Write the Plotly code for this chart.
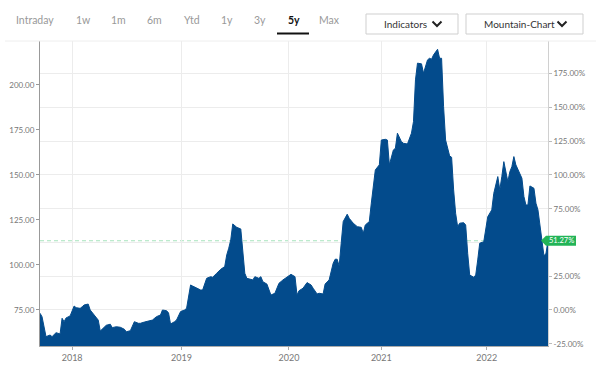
import plotly.graph_objects as go

# ---------------- data ----------------
weeks = [0, 1, 3, 5, 6, 8, 10, 11, 12, 13, 15, 17, 18, 20, 21, 22, 24, 25, 27, 29,
         30, 31, 33, 35, 36, 38, 40, 42, 43, 45, 47, 49, 50, 52, 55, 56, 58, 60, 61, 63,
         64, 65, 67, 68, 70, 72, 73, 75, 76, 78, 80, 81, 83, 85, 86, 88, 90, 92, 93, 94,
         95, 96, 98, 100, 101, 102, 103, 106, 107, 109, 110, 111, 113, 115, 117, 119, 121, 123, 125, 127,
         128, 129, 131, 133, 135, 136, 138, 139, 141, 142, 144, 146, 147, 148, 149, 150, 151, 153, 154, 156,
         158, 160, 161, 162, 164, 165, 166, 167, 169, 170, 172, 173, 174, 176, 177, 178, 180, 181, 183, 184,
         185, 186, 187, 188, 190, 191, 193, 194, 195, 196, 198, 199, 200, 201, 202, 204, 205, 206, 207, 208,
         209, 211, 212, 213, 214, 216, 217, 218, 219, 221, 222, 223, 225, 226, 228, 229, 230, 231, 233, 234,
         235, 236, 237, 238, 240, 241, 242, 243, 244, 246, 247, 248, 249, 250, 251, 252, 253]
prices = [73.2, 71.3, 60.2, 61.1, 60.2, 62.4, 61.7, 70.4, 68.5, 70.6, 71.7, 77.2, 76.3, 75.9, 76.8, 77.8, 78.3, 75.0, 72.2, 69.4,
          63.3, 64.4, 66.5, 67.1, 65.2, 65.7, 65.4, 64.3, 62.9, 63.5, 68.5, 67.6, 67.6, 68.3, 68.9, 69.4, 71.3, 72.2, 75.0, 74.6,
          73.5, 67.2, 68.5, 69.4, 74.1, 75.0, 75.9, 88.9, 88.3, 87.1, 86.1, 86.1, 92.6, 93.5, 93.2, 95.4, 97.6, 99.1, 105.6, 109.3,
          113.9, 122.8, 120.9, 120.0, 106.5, 95.4, 92.6, 91.7, 93.5, 92.6, 93.5, 90.7, 89.4, 83.3, 84.3, 89.8, 91.7, 93.5, 94.8, 93.5,
          83.3, 85.7, 87.1, 90.2, 88.9, 87.1, 83.9, 84.3, 83.9, 89.4, 91.7, 100.9, 103.2, 103.2, 99.4, 112.1, 124.1, 128.2, 125.9, 123.2,
          121.3, 120.9, 117.6, 122.2, 124.1, 134.3, 145.4, 152.8, 155.6, 169.4, 169.8, 169.4, 155.6, 163.9, 164.8, 173.2, 168.5, 167.6, 167.2, 170.4,
          173.2, 179.6, 202.8, 212.1, 211.7, 206.5, 213.9, 214.8, 214.3, 216.7, 219.8, 214.8, 214.8, 187.9, 169.4, 160.6, 159.8, 141.7, 128.7, 121.3,
          123.2, 123.5, 122.2, 106.5, 94.4, 93.2, 94.4, 102.8, 112.1, 112.9, 120.4, 126.8, 130.6, 139.8, 149.1, 141.7, 149.1, 157.4, 146.3, 151.8,
          154.6, 160.2, 155.6, 152.8, 148.2, 138.0, 133.3, 133.3, 143.9, 142.6, 134.3, 130.6, 121.3, 111.1, 105.0, 106.5, 113.45]

base_price = 75.0          # price that corresponds to 0.00 %
last_change_label = "51.27%"

year_ticks = [16, 70.5, 124, 170, 222.5]
year_labels = ["2018", "2019", "2020", "2021", "2022"]
price_ticks = [75, 100, 125, 150, 175, 200]
pct_ticks = [-0.25, 0.0, 0.25, 0.5, 0.75, 1.0, 1.25, 1.5, 1.75]
pct_hidden = [0.5]   # covered by the last-value tag

tabs = ["Intraday", "1w", "1m", "6m", "Ytd", "1y", "3y", "5y", "Max"]
active_tab = "5y"
buttons = ["Indicators", "Mountain-Chart"]

# ---------------- geometry helpers ----------------
W, H = 601, 369
ML, MR, MT, MB = 40, 53, 41, 23
PW, PH = W - ML - MR, H - MT - MB
y_range = [55.0, 224.4]


def px(x):
    return (x - ML) / PW


def py(y):
    return (H - MB - y) / PH


pct_values = [p / base_price - 1 for p in prices]
last_price = prices[-1]

fig = go.Figure()
fig.add_trace(go.Scatter(
    x=weeks, y=prices, mode="lines", fill="tozeroy",
    line=dict(color="#034b8c", width=1), fillcolor="#034b8c",
    hoverinfo="skip", showlegend=False))
fig.add_trace(go.Scatter(
    x=weeks, y=pct_values, yaxis="y2", mode="lines",
    line=dict(width=0, color="rgba(0,0,0,0)"), hoverinfo="skip", showlegend=False))

FONT = "Lato, Open Sans, Arial, sans-serif"
tick_font = dict(family=FONT, size=8, color="#777")

fig.update_layout(
    width=W, height=H, autosize=False, showlegend=False,
    margin=dict(l=ML, r=MR, t=MT, b=MB, pad=0, autoexpand=False),
    paper_bgcolor="white", plot_bgcolor="white",
    xaxis=dict(range=[0, weeks[-1]], tickvals=year_ticks, ticktext=year_labels,
               showgrid=True, gridcolor="#ececec", gridwidth=1,
               showline=True, linecolor="#aaa", linewidth=1,
               ticks="outside", ticklen=3, tickcolor="#aaa",
               tickfont=dict(family=FONT, size=9, color="#777"),
               zeroline=False, fixedrange=True, automargin=False),
    yaxis=dict(range=y_range, tickvals=price_ticks,
               ticktext=[f"{v:.2f}" for v in price_ticks],
               showgrid=False, showline=True, linecolor="#999", linewidth=1,
               ticks="outside", ticklen=3, tickcolor="#999",
               tickfont=tick_font, zeroline=False, fixedrange=True, automargin=False),
    yaxis2=dict(range=[y_range[0] / base_price - 1, y_range[1] / base_price - 1],
                overlaying="y", side="right", tickvals=pct_ticks,
                ticktext=["" if v in pct_hidden else f"{v * 100:.2f}%" for v in pct_ticks],
                showgrid=True, gridcolor="#ececec", gridwidth=1,
                showline=True, linecolor="#d0d0d0", linewidth=1,
                ticks="outside", ticklen=3, tickcolor="#bbb",
                tickfont=tick_font, zeroline=False, fixedrange=True, automargin=False),
)

shapes = []
# dashed reference line at the last price (below the mountain)
shapes.append(dict(type="line", xref="paper", yref="y", x0=0, x1=1,
                   y0=last_price, y1=last_price, layer="below",
                   line=dict(color="#a6e3bd", width=1.2, dash="4px,3px")))
# top separator line
shapes.append(dict(type="line", xref="paper", yref="paper",
                   x0=px(5), x1=px(596), y0=py(41), y1=py(41),
                   line=dict(color="#eeeeee", width=1)))
# last-value tag (arrow box)
ty = last_price
hh = 5 / 1.8
shapes.append(dict(type="path", xref="paper", yref="y",
                   path=(f"M {px(541)},{ty} L {px(546)},{ty + hh} L {px(576)},{ty + hh} "
                         f"L {px(576)},{ty - hh} L {px(546)},{ty - hh} Z"),
                   fillcolor="#22b457", line=dict(width=0), layer="above"))

annotations = []
annotations.append(dict(x=px(561), y=ty, xref="paper", yref="y", text=last_change_label,
                        showarrow=False, font=dict(family=FONT, size=7.5, color="white"),
                        xanchor="center", yanchor="middle"))

# tabs
tab_centers = [35, 83, 118, 154, 192, 227, 260, 294, 329]
for t, cx in zip(tabs, tab_centers):
    is_active = t == active_tab
    annotations.append(dict(
        x=px(cx), y=py(20), xref="paper", yref="paper",
        text=f"<b>{t}</b>" if is_active else t, showarrow=False,
        xanchor="center", yanchor="middle",
        font=dict(family=FONT, size=10.5, color="#111" if is_active else "#999")))
shapes.append(dict(type="line", xref="paper", yref="paper",
                   x0=px(277), x1=px(309), y0=py(33.5), y1=py(33.5),
                   line=dict(color="#111", width=2)))

# dropdown buttons
btn_boxes = [(366, 458), (466, 583)]
for label, (bx0, bx1) in zip(buttons, btn_boxes):
    shapes.append(dict(type="rect", xref="paper", yref="paper",
                       x0=px(bx0), x1=px(bx1), y0=py(14), y1=py(34),
                       line=dict(color="#cfcfcf", width=1), fillcolor="white"))
    cx = bx1 - 21
    shapes.append(dict(type="path", xref="paper", yref="paper",
                       path=(f"M {px(cx - 4.5)},{py(21.5)} L {px(cx)},{py(26)} "
                             f"L {px(cx + 4.5)},{py(21.5)}"),
                       line=dict(color="#222", width=2)))
    annotations.append(dict(
        x=px(bx0 + 16), y=py(24), xref="paper", yref="paper", text=label,
        showarrow=False, xanchor="left", yanchor="middle",
        font=dict(family=FONT, size=10, color="#333")))

fig.update_layout(shapes=shapes, annotations=annotations)
fig.write_html("out.html", config={"displayModeBar": False},
               post_script="document.body.style.margin='0px';")
